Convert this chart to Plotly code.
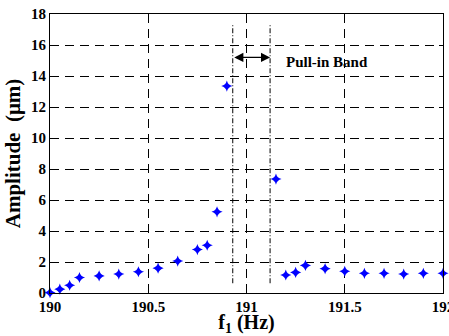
import plotly.graph_objects as go

freq = [190.0, 190.05, 190.1, 190.15, 190.25, 190.35, 190.45, 190.55, 190.65,
        190.75, 190.8, 190.85, 190.9, 191.15, 191.2, 191.25, 191.3, 191.4,
        191.5, 191.6, 191.7, 191.8, 191.9, 192.0]
amp = [0.02, 0.25, 0.5, 1.0, 1.1, 1.22, 1.37, 1.6, 2.06, 2.8, 3.08, 5.24,
       13.35, 7.35, 1.16, 1.33, 1.78, 1.57, 1.4, 1.27, 1.27, 1.22, 1.27, 1.27]

band_lo, band_hi = 190.93, 191.12
band_ymin, band_ymax = 0.63, 17.4
arrow_y = 15.2
label_x, label_y = 191.41, 14.9

xticks = [190, 190.5, 191, 191.5, 192]
xticklabels = ["190", "190.5", "191", "191.5", "192"]
yticks = list(range(0, 19, 2))

font = "Liberation Serif"

fig = go.Figure()
fig.add_trace(go.Scatter(
    x=freq, y=amp, mode="markers",
    marker=dict(symbol="star-diamond", size=8, color="#0000ff",
                line=dict(width=0)),
    showlegend=False, cliponaxis=False))

for xv in (band_lo, band_hi):
    fig.add_shape(type="line", xref="x", yref="y", x0=xv, x1=xv,
                  y0=band_ymin, y1=band_ymax,
                  line=dict(color="black", width=1, dash="5px,2px,1px,2px"))

fig.add_annotation(x=band_hi, y=arrow_y, ax=band_lo, ay=arrow_y,
                   xref="x", yref="y", axref="x", ayref="y",
                   showarrow=True, arrowhead=2, arrowside="end+start",
                   arrowsize=1.3, arrowwidth=1.4, arrowcolor="black", text="")
fig.add_annotation(x=label_x, y=label_y, xref="x", yref="y", showarrow=False,
                   text="<b>Pull-in Band</b>",
                   font=dict(family=font, size=15, color="black"))

axis_common = dict(showline=True, linecolor="black", linewidth=1, mirror="ticks",
                   ticks="inside", ticklen=4, tickcolor="black",
                   showgrid=True, gridcolor="black", griddash="9px,6px", gridwidth=1,
                   zeroline=False, ticklabeloverflow="allow", automargin=False,
                   tickfont=dict(family=font, size=15, color="black", weight="bold"))

fig.update_xaxes(range=[190, 192], tickvals=xticks, ticktext=xticklabels,
                 title=dict(text="<b>f<sub>1</sub> (Hz)</b>", standoff=0,
                            font=dict(family=font, size=20, color="black")),
                 **axis_common)
fig.update_yaxes(range=[0, 18], tickvals=yticks,
                 title=dict(text="<b>Amplitude  (μm)</b>", standoff=4,
                            font=dict(family=font, size=21, color="black")),
                 **axis_common)

fig.update_layout(width=449, height=336, plot_bgcolor="white", paper_bgcolor="white",
                  font=dict(family=font),
                  margin=dict(l=50, r=6, t=14, b=43, autoexpand=False))

fig.write_html("out.html")
